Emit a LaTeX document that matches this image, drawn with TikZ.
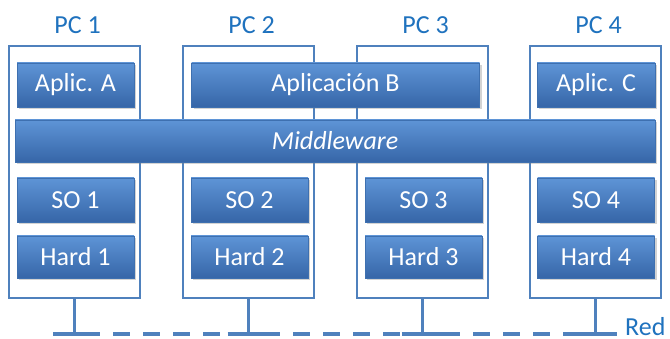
\documentclass[tikz,border=0pt]{standalone}
\usepackage{fontspec}
\setmainfont{Carlito}
\usetikzlibrary{shadows}
\definecolor{frameblue}{RGB}{79,129,189}
\definecolor{labelblue}{RGB}{31,114,190}
\definecolor{boxtop}{RGB}{94,148,214}
\definecolor{boxbot}{RGB}{54,102,168}
\definecolor{boxedge}{RGB}{62,112,176}
\begin{document}
\begin{tikzpicture}[x=1pt,y=-1pt,
  pcframe/.style={draw=frameblue,line width=2.8pt,minimum width=131pt,minimum height=252pt,inner sep=0pt},
  layerbox/.style={draw=boxedge,line width=0.6pt,top color=boxtop,bottom color=boxbot,
    text=white,font=\fontsize{26}{29}\selectfont,inner sep=0pt,minimum height=44pt,
    drop shadow={shadow xshift=2pt,shadow yshift=-2.5pt,opacity=0.35}},
  pclabel/.style={text=labelblue,font=\fontsize{26}{29}\selectfont,inner sep=0pt},
  netline/.style={draw=frameblue,line width=3.6pt},
  stub/.style={draw=frameblue,line width=3.2pt}]
  \useasboundingbox (0,0) rectangle (670,339);

  % computers
  \foreach \i/\x in {1/74.5,2/248.5,3/422.5,4/595.5}{
    \node[pcframe] (pc\i) at (\x,172) {};
    \node[pclabel] (lab\i) at (\x+3,25) {PC \i};
  }

  % applications
  \node[layerbox,minimum width=117pt] (appA) at (75.5,85) {Aplic. A};
  \node[layerbox,minimum width=288pt] (appB) at (335.5,85) {Aplicación B};
  \node[layerbox,minimum width=118pt] (appC) at (596,85) {Aplic. C};

  % middleware
  \node[layerbox,minimum width=640pt,minimum height=42pt] (mw) at (335,141) {\itshape Middleware};

  % operating systems and hardware
  \foreach \i/\x in {1/75.5,2/249.5,3/423.5,4/596}{
    \node[layerbox,minimum width=117pt] (so\i) at (\x,200) {SO \i};
    \node[layerbox,minimum width=117pt,minimum height=42pt] (hw\i) at (\x,257) {Hard \i};
  }

  % network
  \coordinate (netL) at (53,334);
  \coordinate (netR) at (617,334);
  \draw[netline,dash pattern=on 17pt off 13pt] (netL) -- (netR);
  \foreach \i in {1,2,3,4}{
    \coordinate (tap\i) at (pc\i.south |- netL);
    \draw[stub] (pc\i.south) -- (tap\i);
    \draw[netline] ([xshift=-21pt]tap\i) -- ([xshift=21pt]tap\i);
  }
  \node[pclabel,anchor=west] (red) at (625,327) {Red};
\end{tikzpicture}
\end{document}
